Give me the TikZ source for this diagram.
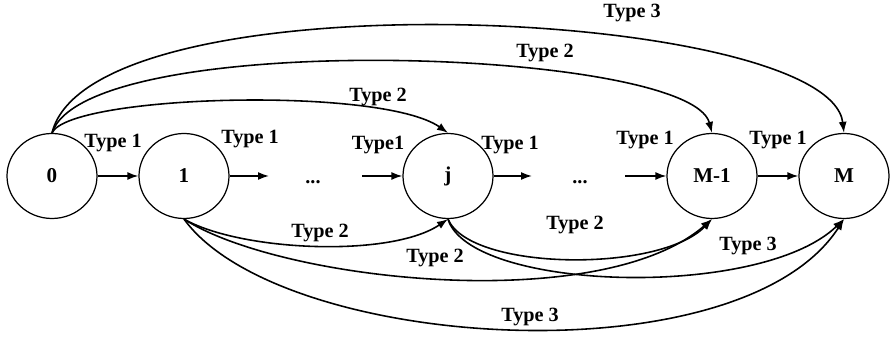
\documentclass[tikz,border=0pt]{standalone}
\usepackage{fontspec}
\setmainfont{Liberation Serif}
\usetikzlibrary{arrows.meta}
\usetikzlibrary{shapes.geometric}

\tikzset{
  stnode/.style={draw, ellipse, line width=0.7pt, minimum width=1.8cm,
    minimum height=1.7cm, inner sep=0pt, font=\fontsize{12}{14}\selectfont\bfseries},
  lab/.style={font=\fontsize{11.5}{13}\selectfont\bfseries, inner sep=1pt},
  arr/.style={-{Latex[length=2.2mm,width=1.6mm]}, line width=0.9pt},
}

\begin{document}
\begin{tikzpicture}
  \useasboundingbox (0,0) rectangle (17.8,6.76);

  % states
  \node[stnode] (s0) at (1.04,3.24) {0};
  \node[stnode] (s1) at (3.68,3.24) {1};
  \node[stnode] (sj) at (8.96,3.24) {j};
  \node[stnode] (sm1) at (14.24,3.24) {M-1};
  \node[stnode] (sm) at (16.88,3.24) {M};
  \node[lab] (dots1) at (6.26,3.12) {...};
  \node[lab] (dots2) at (11.6,3.12) {...};
  \coordinate (a1) at (5.38,3.24);
  \coordinate (a2) at (7.24,3.24);
  \coordinate (a3) at (10.64,3.24);
  \coordinate (a4) at (12.5,3.24);

  % type 1: one step
  \draw[arr] (s0) -- (s1);
  \draw[arr] (s1) -- (a1);
  \draw[arr] (a2) -- (sj);
  \draw[arr] (sj) -- (a3);
  \draw[arr] (a4) -- (sm1);
  \draw[arr] (sm1) -- (sm);
  \node[lab] (t1a) at (2.26,3.9) {Type 1};
  \node[lab] (t1b) at (5.0,3.98) {Type 1};
  \node[lab] (t1c) at (7.56,3.86) {Type1};
  \node[lab] (t1d) at (10.2,3.86) {Type 1};
  \node[lab] (t1e) at (12.9,3.96) {Type 1};
  \node[lab] (t1f) at (15.56,3.96) {Type 1};

  % jumps out of 0, over the top
  \draw[arr] (s0.north) .. controls +(0.36,0.76) and +(-1.34,0.94) .. (sj.north);
  \draw[arr] (s0.north) .. controls +(0.7,2.1) and +(-0.44,1.7) .. (sm1.north);
  \draw[arr] (s0.north) .. controls +(0.8,3.2) and +(-0.3,2.5) .. (sm.north);
  \node[lab] (t2a) at (7.56,4.82) {Type 2};
  \node[lab] (t2b) at (10.9,5.7) {Type 2};
  \node[lab] (t3a) at (12.64,6.5) {Type 3};

  % jumps out of 1 and j, underneath
  \draw[arr] (s1.south) .. controls +(1.12,-0.64) and +(-1.16,-0.78) .. (sj.south);
  \draw[arr] (s1.south) .. controls +(1.92,-1.24) and +(-2.24,-1.94) .. (sm1.south);
  \draw[arr] (s1.south) .. controls +(1.92,-2.64) and +(-2.08,-3.22) .. (sm.south);
  \draw[arr] (sj.south) .. controls +(0.44,-1.04) and +(-1.04,-1.08) .. (sm1.south);
  \draw[arr] (sj.south) .. controls +(0.44,-1.44) and +(-1.68,-1.62) .. (sm.south);
  \node[lab] (t2c) at (6.4,2.1) {Type 2};
  \node[lab] (t2d) at (8.7,1.6) {Type 2};
  \node[lab] (t2e) at (11.5,2.26) {Type 2};
  \node[lab] (t3b) at (14.96,1.84) {Type 3};
  \node[lab] (t3c) at (10.6,0.42) {Type 3};
\end{tikzpicture}
\end{document}
